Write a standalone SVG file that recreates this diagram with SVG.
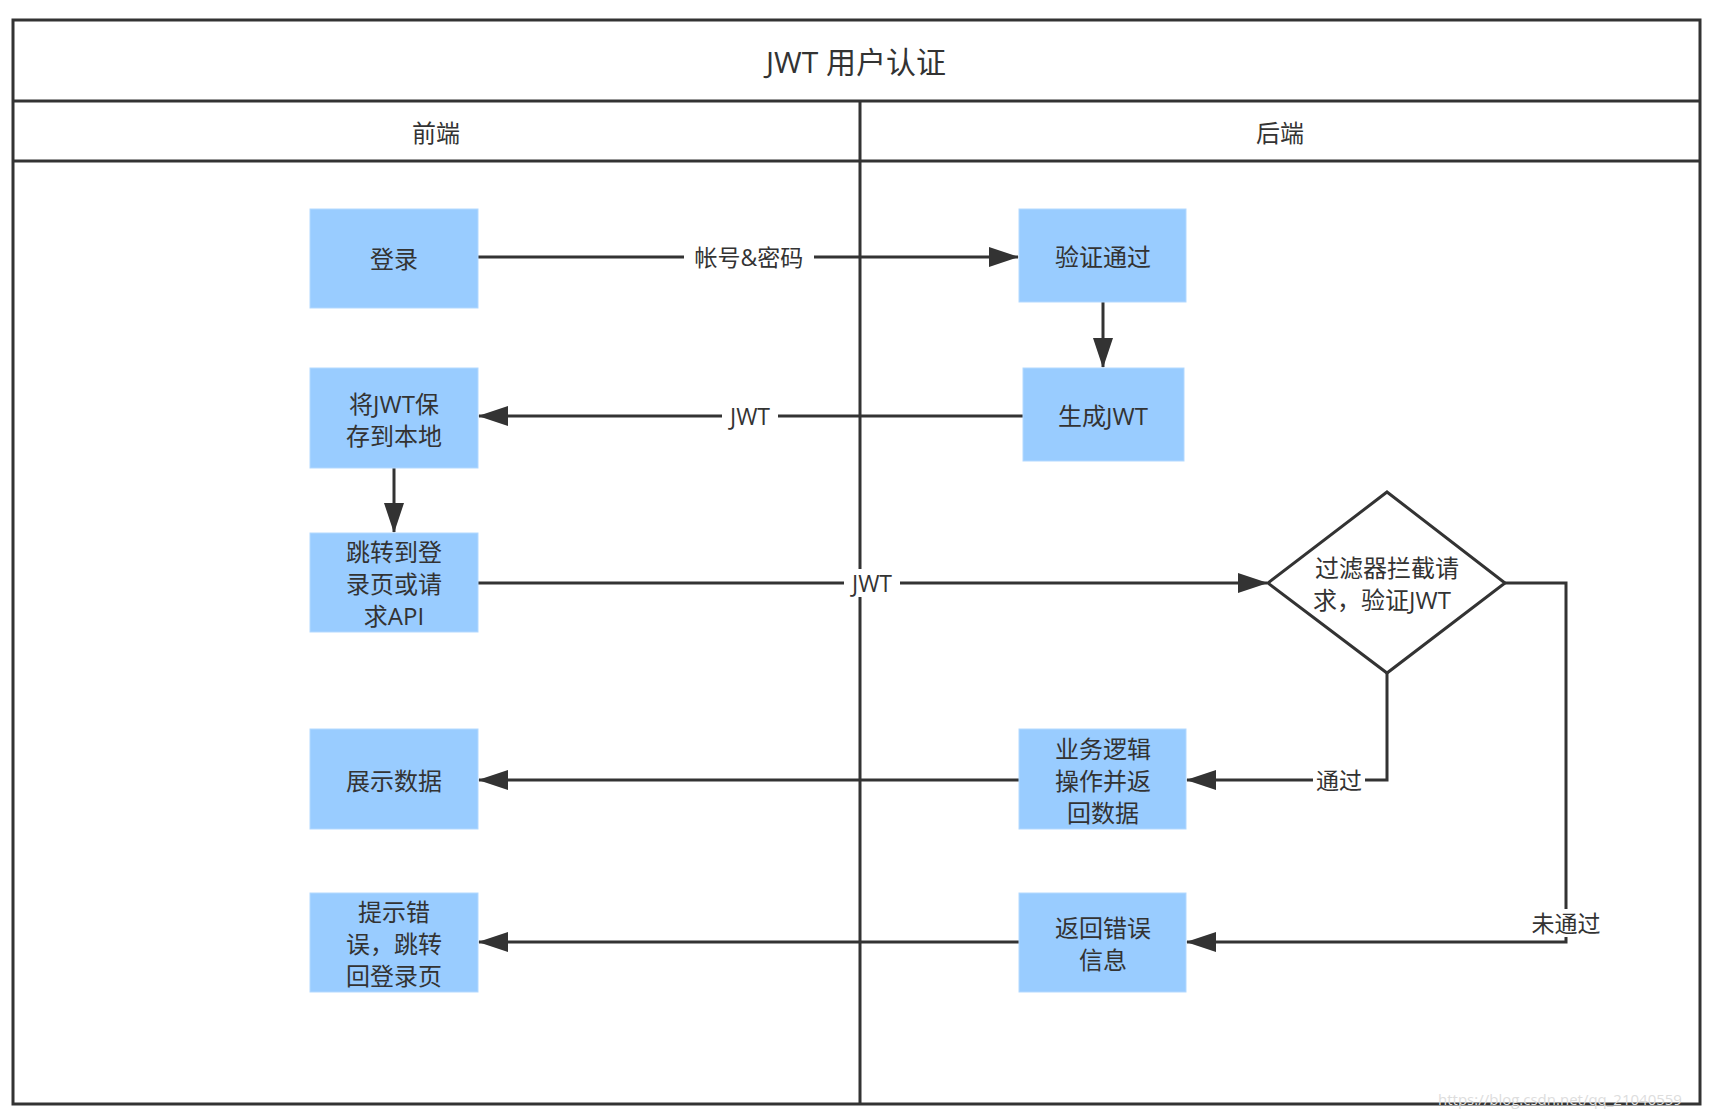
<svg xmlns="http://www.w3.org/2000/svg" width="1709" height="1116" viewBox="0 0 1709 1116">
<style>
text{font-family:"Open Sans","Noto Sans CJK SC",sans-serif;fill:#333;text-anchor:middle;dominant-baseline:central}
.box{fill:#99ccff;stroke:#b3d9ff;stroke-width:1}
.t{font-size:24px}
.ln{stroke:#333;stroke-width:3;fill:none}
.lab{font-size:23px}
.lb{fill:#fff}
</style>
<defs><marker id="a" markerWidth="10" markerHeight="8" refX="9" refY="4" orient="auto" markerUnits="userSpaceOnUse" viewBox="0 0 10 8"><path d="M0,0L10,4L0,8z" fill="#333"/></marker>
<marker id="b" viewBox="0 0 30 20" refX="29" refY="10" markerWidth="30" markerHeight="20" orient="auto" markerUnits="userSpaceOnUse"><path d="M0,0L30,10L0,20z" fill="#333"/></marker></defs>
<g id="frame" fill="none" stroke="#333" stroke-width="3">
<rect x="13" y="20" width="1687" height="1084" fill="#fff"/>
<line x1="13" y1="101" x2="1700" y2="101"/>
<line x1="13" y1="161" x2="1700" y2="161"/>
<line x1="860" y1="101" x2="860" y2="1104"/>
</g>
<text x="856" y="61" font-size="30">JWT 用户认证</text>
<text x="436" y="132" font-size="24">前端</text>
<text x="1280" y="132" font-size="24">后端</text>
<g id="connectors">
<path class="ln" d="M478,257H1018" marker-end="url(#b)"/>
<path class="ln" d="M1103,302V367" marker-end="url(#b)"/>
<path class="ln" d="M1023,416H479" marker-end="url(#b)"/>
<path class="ln" d="M394,468V532" marker-end="url(#b)"/>
<path class="ln" d="M478,583H1267" marker-end="url(#b)"/>
<path class="ln" d="M1387,673V780H1187" marker-end="url(#b)"/>
<path class="ln" d="M1019,780H479" marker-end="url(#b)"/>
<path class="ln" d="M1505,583H1566V942H1187" marker-end="url(#b)"/>
<path class="ln" d="M1019,942H479" marker-end="url(#b)"/>
<rect class="lb" x="684" y="243" width="130" height="28"/><text class="lab" x="749" y="257">帐号&amp;密码</text>
<rect class="lb" x="722" y="402" width="56" height="28"/><text class="lab" x="750" y="416">JWT</text>
<rect class="lb" x="844" y="569" width="56" height="28"/><text class="lab" x="872" y="583">JWT</text>
<rect class="lb" x="1313" y="766" width="52" height="28"/><text class="lab" x="1339" y="780">通过</text>
<rect class="lb" x="1524" y="909" width="84" height="28"/><text class="lab" x="1566" y="923">未通过</text>
</g>
<g id="n1"><rect class="box" x="310" y="209" width="168" height="99"/><text class="t" x="394" y="258">登录</text></g>
<g id="n2"><rect class="box" x="1019" y="209" width="167" height="93"/><text class="t" x="1103" y="256">验证通过</text></g>
<g id="n3"><rect class="box" x="1023" y="368" width="161" height="93"/><text class="t" x="1103" y="415">生成JWT</text></g>
<g id="n4"><rect class="box" x="310" y="368" width="168" height="100"/><text class="t" x="394" y="403">将JWT保</text><text class="t" x="394" y="435">存到本地</text></g>
<g id="n5"><rect class="box" x="310" y="533" width="168" height="99"/><text class="t" x="394" y="551">跳转到登</text><text class="t" x="394" y="583">录页或请</text><text class="t" x="394" y="615">求API</text></g>
<g id="n6"><polygon points="1387,492 1505,583 1387,673 1268,583" fill="#fff" stroke="#333" stroke-width="3"/><text class="t" x="1387" y="567">过滤器拦截请</text><text class="t" x="1382" y="599">求，验证JWT</text></g>
<g id="n7"><rect class="box" x="310" y="729" width="168" height="100"/><text class="t" x="394" y="780">展示数据</text></g>
<g id="n8"><rect class="box" x="1019" y="729" width="167" height="100"/><text class="t" x="1103" y="748">业务逻辑</text><text class="t" x="1103" y="780">操作并返</text><text class="t" x="1103" y="812">回数据</text></g>
<g id="n9"><rect class="box" x="310" y="893" width="168" height="99"/><text class="t" x="394" y="911">提示错</text><text class="t" x="394" y="943">误，跳转</text><text class="t" x="394" y="975">回登录页</text></g>
<g id="n10"><rect class="box" x="1019" y="893" width="167" height="99"/><text class="t" x="1103" y="927">返回错误</text><text class="t" x="1103" y="959">信息</text></g>
<text x="1560" y="1099" font-size="15" style="fill:#ddd">https://blog.csdn.net/qq_21040559</text>
</svg>
